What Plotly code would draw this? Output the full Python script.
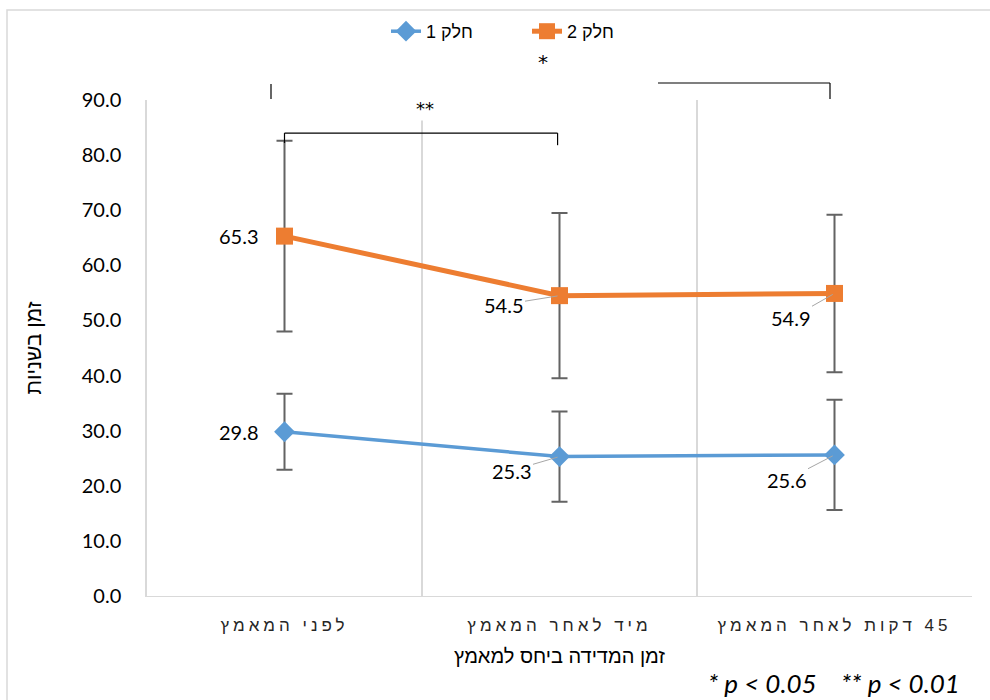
import plotly.graph_objects as go

# Measurement times (category labels) and group means with SD error bars
categories = ["לפני המאמץ", "מיד לאחר המאמץ", "\u200f45 דקות לאחר המאמץ"]
part1_mean = [29.8, 25.3, 25.6]
part1_sd = [6.9, 8.2, 10.0]
part2_mean = [65.3, 54.5, 54.9]
part2_sd = [17.3, 15.0, 14.3]
series_names = ["חלק 1", "חלק 2"]
y_ticks = [0, 10, 20, 30, 40, 50, 60, 70, 80, 90]

BLUE = "#5B9BD5"
ORANGE = "#ED7D31"
ERR = "#636363"
GRID = "#D9D9D9"
NUM_FONT = "Lato, Carlito, 'Liberation Sans', sans-serif"
HEB_FONT = "'Liberation Sans', 'DejaVu Sans', sans-serif"

# plot-area geometry in pixels (used to convert outside-of-axis positions to paper units)
L, R, T, B = 147, 972, 100, 596
W, H = 990, 700


def px_x(px):
    return (px - L) / (R - L)


def px_y(py):
    return (B - py) / (B - T)


xpos = list(range(len(categories)))

fig = go.Figure()
fig.add_trace(go.Scatter(
    x=xpos, y=part1_mean, name=series_names[0], mode="lines+markers",
    line=dict(color=BLUE, width=3.5),
    marker=dict(symbol="diamond", size=16, color=BLUE),
    error_y=dict(type="data", array=part1_sd, color=ERR, thickness=2, width=8),
))
fig.add_trace(go.Scatter(
    x=xpos, y=part2_mean, name=series_names[1], mode="lines+markers",
    line=dict(color=ORANGE, width=5),
    marker=dict(symbol="square", size=17, color=ORANGE),
    error_y=dict(type="data", array=part2_sd, color=ERR, thickness=2, width=8),
))

# Value labels: the first point sits plain to the left, the others get leader lines
label_offsets_p2 = [None, (-56, 9), (-44, 25)]
label_offsets_p1 = [None, (-48, 14), (-48, 25)]
annotations = []
for means, offs in ((part2_mean, label_offsets_p2), (part1_mean, label_offsets_p1)):
    for i, v in enumerate(means):
        txt = f"{v:.1f}"
        if offs[i] is None:
            annotations.append(dict(x=xpos[i], y=v, xref="x", yref="y", text=txt,
                                    showarrow=False, xanchor="right", xshift=-24,
                                    font=dict(family=NUM_FONT, size=20, color="#000")))
        else:
            ax, ay = offs[i]
            annotations.append(dict(x=xpos[i], y=v, xref="x", yref="y", text=txt,
                                    showarrow=True, arrowhead=0, arrowwidth=1,
                                    arrowcolor="#A6A6A6", ax=ax, ay=ay, standoff=2,
                                    font=dict(family=NUM_FONT, size=20, color="#000")))

# Significance markers
annotations.append(dict(x=px_x(543), y=px_y(62), xref="paper", yref="paper", text="*",
                        showarrow=False, xanchor="center", yanchor="middle",
                        font=dict(family="'DejaVu Sans', sans-serif", size=20, color="#000")))
annotations.append(dict(x=px_x(425), y=px_y(108), xref="paper", yref="paper", text="**",
                        showarrow=False, bgcolor="white", xanchor="center", yanchor="middle",
                        font=dict(family="'DejaVu Sans', sans-serif", size=18, color="#000")))
# Footnote
annotations.append(dict(x=px_x(962), y=px_y(683), xref="paper", yref="paper",
                        text="<i>* p &lt; 0.05 &nbsp;&nbsp; ** p &lt; 0.01</i>", showarrow=False,
                        xanchor="right", yanchor="middle",
                        font=dict(family="Lato, 'Open Sans', sans-serif", size=26, color="#000")))

bk = dict(color="#000", width=1.2)
shapes = [
    # bracket for * (before vs 45 min), partly hidden behind the legend
    dict(type="line", xref="paper", yref="paper", x0=px_x(658), x1=px_x(830),
         y0=px_y(83), y1=px_y(83), line=bk),
    dict(type="line", xref="paper", yref="paper", x0=px_x(830), x1=px_x(830),
         y0=px_y(83), y1=px_y(99), line=bk),
    dict(type="line", xref="paper", yref="paper", x0=px_x(271), x1=px_x(271),
         y0=px_y(84), y1=px_y(99), line=bk),
    # bracket for ** (before vs right after)
    dict(type="line", xref="x", yref="y", x0=0.0, x1=0.993, y0=84.0, y1=84.0, line=bk),
    dict(type="line", xref="x", yref="y", x0=0.0, x1=0.0, y0=84.0, y1=82.2, line=bk),
    dict(type="line", xref="x", yref="y", x0=0.993, x1=0.993, y0=84.0, y1=81.8, line=bk),
    # chart frame
    dict(type="rect", xref="paper", yref="paper",
         x0=px_x(7), x1=px_x(1000), y0=px_y(710), y1=px_y(10),
         line=dict(color=GRID, width=1.5), layer="below"),
]

fig.update_layout(
    width=W, height=H,
    margin=dict(l=L, r=W - R, t=T, b=H - B),
    paper_bgcolor="white", plot_bgcolor="white",
    showlegend=True,
    legend=dict(orientation="h", x=386 / W, xref="container", xanchor="left",
                y=1 - 13 / H, yref="container", yanchor="top",
                entrywidth=96, entrywidthmode="pixels",
                font=dict(family=HEB_FONT, size=18, color="#000"),
                bgcolor="rgba(255,255,255,0)"),
    annotations=annotations,
    shapes=shapes,
    xaxis=dict(
        range=[-0.5, 2.5], tickvals=xpos, ticktext=categories,
        showgrid=False, zeroline=False, showline=True, linecolor=GRID, linewidth=1,
        ticks="", ticklabelstandoff=14,
        tickfont=dict(family=HEB_FONT, size=17, color="#262626"),
        minor=dict(tickvals=[0.5, 1.5, 2.5], showgrid=True, gridcolor=GRID, gridwidth=1.5),
        title=dict(text="זמן המדידה ביחס למאמץ", standoff=14,
                   font=dict(family=HEB_FONT, size=20, color="#000")),
    ),
    yaxis=dict(
        range=[0, 90], tickvals=y_ticks, tickformat=".1f",
        showgrid=False, zeroline=False, showline=True, linecolor=GRID, linewidth=1.5,
        ticks="", ticklabelstandoff=20,
        tickfont=dict(family=NUM_FONT, size=20, color="#000"),
        title=dict(text="זמן בשניות", standoff=34,
                   font=dict(family=HEB_FONT, size=21, color="#000")),
    ),
)

# Category labels are drawn letter-spaced
spacing_js = (
    "var gd=document.getElementById('{plot_id}');"
    "function sp(){gd.querySelectorAll('.xtick text').forEach(function(t){"
    "t.style.letterSpacing='4px';});}"
    "sp(); gd.on('plotly_afterplot', sp);"
)

fig.write_html("out.html", post_script=spacing_js)
